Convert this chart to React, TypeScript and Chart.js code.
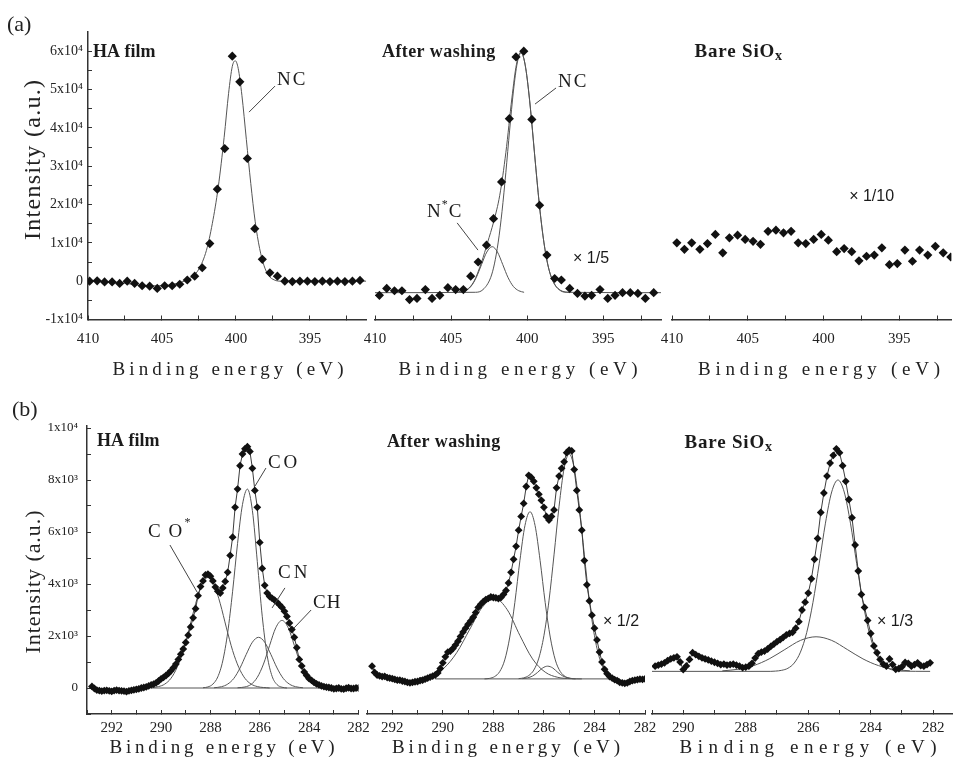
import React, { useEffect, useRef } from "react";
import { Chart, registerables } from "chart.js";

Chart.register(...registerables);

type Pt = [number, number];

const CANVAS_W = 956;
const CANVAS_H = 777;
const SERIF = "'Liberation Serif', 'DejaVu Serif', 'Times New Roman', serif";
const SANS = "'Liberation Sans', 'DejaVu Sans', Arial, sans-serif";

// ---------------- tick values and labels ----------------
const n1sTicks = [410, 407.5, 405, 402.5, 400, 397.5, 395, 392.5];
const n1sTickLabels = ["410", "", "405", "", "400", "", "395", ""];
const n1sIntensityTicks = [-1, -0.5, 0, 0.5, 1, 1.5, 2, 2.5, 3, 3.5, 4, 4.5, 5, 5.5, 6];
const n1sIntensityLabels = ["-1x10⁴", "", "0", "", "1x10⁴", "", "2x10⁴", "", "3x10⁴", "", "4x10⁴", "", "5x10⁴", "", "6x10⁴"];
const c1sTicks = [293, 292, 291, 290, 289, 288, 287, 286, 285, 284, 283, 282];
const c1sTickLabels = ["", "292", "", "290", "", "288", "", "286", "", "284", "", "282"];
const c1sBareTicks = [291, 290, 289, 288, 287, 286, 285, 284, 283, 282];
const c1sBareTickLabels = ["", "290", "", "288", "", "286", "", "284", "", "282"];
const c1sIntensityTicks = [-1, 0, 1, 2, 3, 4, 5, 6, 7, 8, 9, 10];
const c1sIntensityLabels = ["", "0", "", "2x10³", "", "4x10³", "", "6x10³", "", "8x10³", "", "1x10⁴"];

// ---------------- (a) N1s, intensity in 10^4 counts ----------------
const n1sHAFilm: Pt[] = [
  [409.89, 0.0], [409.38, 0.01], [408.88, -0.02], [408.37, -0.02], [407.86, -0.06], [407.35, 0.0],
  [406.85, -0.06], [406.34, -0.12], [405.83, -0.13], [405.32, -0.19], [404.82, -0.12], [404.31, -0.12],
  [403.8, -0.08], [403.29, 0.03], [402.79, 0.13], [402.28, 0.35], [401.77, 0.98], [401.26, 2.4],
  [400.76, 3.46], [400.25, 5.87], [399.74, 5.2], [399.23, 3.2], [398.73, 1.37], [398.22, 0.57],
  [397.71, 0.22], [397.2, 0.13], [396.7, 0.0], [396.19, -0.01], [395.68, 0.0], [395.17, 0.0],
  [394.67, -0.01], [394.16, 0.0], [393.65, -0.01], [393.14, 0.0], [392.64, -0.01], [392.13, 0.0], [391.62, 0.02],
];
const n1sHAFilmFit: Pt[] = [
  [410, 0.0], [408, -0.03], [406, -0.12], [405, -0.12], [404, -0.06], [403.5, 0.0], [403, 0.1],
  [402.5, 0.32], [402, 0.8], [401.6, 1.5], [401.2, 2.45], [400.8, 3.75], [400.5, 4.9], [400.25, 5.6],
  [400.05, 5.75], [399.85, 5.55], [399.6, 4.85], [399.3, 3.7], [399.0, 2.55], [398.7, 1.55], [398.4, 0.85],
  [398.1, 0.4], [397.8, 0.15], [397.4, 0.03], [397, 0.0], [391.2, 0.0],
];
const n1sWashed: Pt[] = [
  [409.71, -0.37], [409.23, -0.19], [408.72, -0.25], [408.23, -0.25], [407.73, -0.48], [407.24, -0.45],
  [406.69, -0.22], [406.25, -0.45], [405.74, -0.37], [405.21, -0.17], [404.7, -0.22], [404.19, -0.22],
  [403.71, 0.13], [403.22, 0.5], [402.67, 0.94], [402.21, 1.63], [401.68, 2.59], [401.17, 4.24],
  [400.73, 5.85], [400.22, 6.0], [399.69, 4.22], [399.18, 1.98], [398.7, 0.68], [398.19, 0.07],
  [397.75, 0.03], [397.2, -0.19], [396.69, -0.32], [396.2, -0.39], [395.76, -0.37], [395.21, -0.22],
  [394.7, -0.45], [394.22, -0.37], [393.73, -0.3], [393.22, -0.3], [392.72, -0.32], [392.23, -0.45], [391.68, -0.3],
];
const n1sWashedNC: Pt[] = [
  [410, -0.3], [403.4, -0.29], [402.9, -0.22], [402.4, 0.09], [402.15, 0.45], [401.9, 1.02], [401.65, 1.82],
  [401.4, 2.83], [401.15, 3.94], [400.9, 4.96], [400.65, 5.69], [400.4, 5.95], [400.15, 5.69], [399.9, 4.96],
  [399.65, 3.94], [399.4, 2.83], [399.15, 1.82], [398.9, 1.02], [398.65, 0.45], [398.4, 0.09], [397.9, -0.22],
  [397.4, -0.29], [391.2, -0.3],
];
const n1sWashedNstarC: Pt[] = [
  [404.4, -0.29], [404.05, -0.25], [403.7, -0.14], [403.35, 0.09], [403.0, 0.43], [402.65, 0.76], [402.3, 0.9],
  [401.95, 0.76], [401.6, 0.43], [401.25, 0.09], [400.9, -0.14], [400.55, -0.25], [400.2, -0.29],
];
const n1sWashedEnvelope: Pt[] = [
  [404.5, -0.27], [404.0, -0.23], [403.5, -0.01], [403.0, 0.49], [402.6, 1.01], [402.2, 1.55], [401.8, 2.24],
  [401.4, 3.35], [401.0, 4.78], [400.7, 5.66], [400.4, 5.98], [400.1, 5.57], [399.8, 4.57], [399.5, 3.27],
  [399.2, 2.01], [398.9, 1.02], [398.6, 0.36], [398.2, -0.08], [397.8, -0.24], [397.2, -0.3],
];
const n1sBare: Pt[] = [
  [409.68, 1.0], [409.18, 0.83], [408.7, 1.0], [408.16, 0.83], [407.66, 0.98], [407.14, 1.22], [406.65, 0.74],
  [406.21, 1.13], [405.67, 1.2], [405.17, 1.09], [404.65, 1.04], [404.16, 0.96], [403.66, 1.3], [403.14, 1.33],
  [402.64, 1.26], [402.14, 1.3], [401.67, 1.0], [401.17, 0.98], [400.65, 1.09], [400.15, 1.22], [399.68, 1.07],
  [399.13, 0.77], [398.64, 0.85], [398.14, 0.77], [397.66, 0.53], [397.16, 0.65], [396.65, 0.68], [396.15, 0.87],
  [395.65, 0.43], [395.13, 0.46], [394.63, 0.81], [394.13, 0.52], [393.66, 0.81], [393.12, 0.68], [392.62, 0.91],
  [392.1, 0.74], [391.6, 0.63],
];

// ---------------- (b) C1s, intensity in 10^3 counts ----------------
const c1sHAFilm: Pt[] = [
  [292.8, 0.06], [292.7, -0.02], [292.6, -0.08], [292.5, -0.1], [292.4, -0.12], [292.3, -0.1], [292.2, -0.09],
  [292.1, -0.11], [292.0, -0.13], [291.9, -0.1], [291.8, -0.08], [291.7, -0.1], [291.6, -0.11], [291.5, -0.12],
  [291.4, -0.14], [291.3, -0.11], [291.2, -0.09], [291.1, -0.07], [291.0, -0.05], [290.9, -0.03], [290.8, 0.0],
  [290.7, 0.02], [290.6, 0.04], [290.5, 0.08], [290.4, 0.12], [290.3, 0.15], [290.2, 0.2], [290.1, 0.27],
  [290.0, 0.35], [289.9, 0.41], [289.8, 0.48], [289.7, 0.56], [289.6, 0.66], [289.5, 0.78], [289.4, 0.92],
  [289.3, 1.1], [289.2, 1.3], [289.1, 1.5], [289.0, 1.75], [288.9, 2.03], [288.8, 2.35], [288.7, 2.7],
  [288.6, 3.05], [288.5, 3.55], [288.4, 3.9], [288.3, 4.12], [288.2, 4.35], [288.1, 4.38], [288.0, 4.3],
  [287.9, 4.12], [287.8, 3.88], [287.7, 3.72], [287.6, 3.65], [287.5, 3.85], [287.4, 4.1], [287.3, 4.45],
  [287.2, 5.1], [287.1, 5.8], [287.0, 6.95], [286.9, 7.65], [286.8, 8.55], [286.7, 9.0], [286.6, 9.2],
  [286.5, 9.28], [286.4, 9.1], [286.3, 8.45], [286.2, 7.6], [286.1, 6.95], [286.0, 5.6], [285.9, 4.6],
  [285.8, 3.95], [285.7, 3.65], [285.6, 3.52], [285.5, 3.45], [285.4, 3.38], [285.3, 3.3], [285.2, 3.2],
  [285.1, 3.1], [285.0, 2.95], [284.9, 2.75], [284.8, 2.5], [284.7, 2.25], [284.6, 1.95], [284.5, 1.55],
  [284.4, 1.1], [284.3, 0.85], [284.2, 0.62], [284.1, 0.48], [284.0, 0.36], [283.9, 0.29], [283.8, 0.22],
  [283.7, 0.16], [283.6, 0.12], [283.5, 0.08], [283.4, 0.05], [283.3, 0.03], [283.2, 0.02], [283.1, 0.0],
  [283.0, -0.03], [282.9, -0.02], [282.8, 0.0], [282.7, -0.03], [282.6, -0.04], [282.5, -0.01], [282.4, 0.01],
  [282.3, -0.02], [282.2, -0.02], [282.1, 0.0], [282.0, 0.0],
];
const c1sHACOstar: Pt[] = [
  [290.6, 0], [290.1, 0.055], [289.85, 0.15], [289.6, 0.37], [289.35, 0.79], [289.1, 1.44], [288.85, 2.31],
  [288.6, 3.24], [288.35, 3.97], [288.1, 4.25], [287.85, 3.97], [287.6, 3.24], [287.35, 2.31], [287.1, 1.44],
  [286.85, 0.79], [286.6, 0.37], [286.35, 0.15], [286.1, 0.055], [285.6, 0],
];
const c1sHACO: Pt[] = [
  [288.3, 0.01], [288.1, 0.04], [287.9, 0.15], [287.7, 0.43], [287.5, 1.04], [287.3, 2.13], [287.1, 3.72],
  [286.9, 5.56], [286.7, 7.06], [286.5, 7.65], [286.3, 6.83], [286.1, 4.86], [285.9, 2.76], [285.7, 1.25],
  [285.5, 0.45], [285.3, 0.13], [285.1, 0.03], [284.9, 0],
];
const c1sHACN: Pt[] = [
  [287.85, 0.01], [287.55, 0.05], [287.3, 0.15], [287.05, 0.37], [286.8, 0.77], [286.55, 1.29], [286.3, 1.76],
  [286.05, 1.95], [285.8, 1.76], [285.55, 1.29], [285.3, 0.77], [285.05, 0.37], [284.8, 0.15], [284.55, 0.05],
  [284.25, 0.01],
];
const c1sHACH: Pt[] = [
  [286.9, 0.01], [286.6, 0.04], [286.35, 0.14], [286.1, 0.41], [285.85, 0.92], [285.6, 1.64], [285.35, 2.32],
  [285.1, 2.6], [284.85, 2.32], [284.6, 1.64], [284.35, 0.92], [284.1, 0.41], [283.85, 0.14], [283.6, 0.04],
  [283.3, 0.01],
];
const c1sHABaseline: Pt[] = [[290.4, 0], [283.3, 0]];

const c1sWashed: Pt[] = [
  [292.8, 0.84], [292.7, 0.6], [292.6, 0.5], [292.5, 0.47], [292.4, 0.44], [292.3, 0.45], [292.2, 0.4],
  [292.1, 0.38], [292.0, 0.36], [291.9, 0.33], [291.8, 0.3], [291.7, 0.3], [291.6, 0.27], [291.5, 0.25],
  [291.4, 0.22], [291.3, 0.2], [291.2, 0.22], [291.1, 0.24], [291.0, 0.25], [290.9, 0.28], [290.8, 0.3],
  [290.7, 0.34], [290.6, 0.38], [290.5, 0.42], [290.4, 0.46], [290.3, 0.5], [290.2, 0.58], [290.1, 0.75],
  [290.0, 0.97], [289.9, 1.2], [289.8, 1.38], [289.7, 1.42], [289.6, 1.52], [289.5, 1.65], [289.4, 1.8],
  [289.3, 1.98], [289.2, 2.15], [289.1, 2.3], [289.0, 2.45], [288.9, 2.58], [288.8, 2.72], [288.7, 2.9],
  [288.6, 3.1], [288.5, 3.22], [288.4, 3.32], [288.3, 3.4], [288.2, 3.45], [288.1, 3.5], [288.0, 3.48],
  [287.9, 3.47], [287.8, 3.44], [287.7, 3.48], [287.6, 3.6], [287.5, 3.75], [287.4, 4.04], [287.3, 4.45],
  [287.2, 4.95], [287.1, 5.45], [287.0, 6.07], [286.9, 6.6], [286.8, 7.1], [286.7, 7.75], [286.6, 8.18],
  [286.5, 8.1], [286.4, 7.95], [286.3, 7.7], [286.2, 7.45], [286.1, 7.22], [286.0, 6.95], [285.9, 6.6],
  [285.8, 6.46], [285.7, 6.6], [285.6, 6.85], [285.5, 7.7], [285.4, 8.15], [285.3, 8.45], [285.2, 8.7],
  [285.1, 9.05], [285.0, 9.15], [284.9, 9.12], [284.8, 8.4], [284.7, 7.6], [284.6, 6.85], [284.5, 6.07],
  [284.4, 4.9], [284.3, 3.97], [284.2, 3.35], [284.1, 2.8], [284.0, 2.3], [283.9, 1.85], [283.8, 1.38],
  [283.7, 1.0], [283.6, 0.72], [283.5, 0.55], [283.4, 0.44], [283.3, 0.38], [283.2, 0.32], [283.1, 0.28],
  [283.0, 0.22], [282.9, 0.2], [282.8, 0.18], [282.7, 0.2], [282.6, 0.25], [282.5, 0.28], [282.4, 0.3],
  [282.3, 0.32], [282.2, 0.34], [282.1, 0.33], [282.0, 0.35],
];
const c1sWashCOstar: Pt[] = [
  [290.95, 0.38], [290.45, 0.49], [289.95, 0.77], [289.45, 1.36], [288.95, 2.23], [288.45, 3.09], [287.95, 3.45],
  [287.45, 3.01], [286.95, 2.02], [286.45, 1.12], [285.95, 0.61], [285.45, 0.41], [284.95, 0.36], [284.5, 0.35],
];
const c1sWashCO: Pt[] = [
  [288.35, 0.35], [288.15, 0.37], [287.95, 0.44], [287.75, 0.63], [287.55, 1.08], [287.35, 1.96], [287.15, 3.29],
  [286.95, 4.9], [286.75, 6.25], [286.55, 6.78], [286.35, 6.25], [286.15, 4.9], [285.95, 3.29], [285.75, 1.96],
  [285.55, 1.08], [285.35, 0.63], [285.15, 0.44], [284.95, 0.37], [284.75, 0.35],
];
const c1sWashCN: Pt[] = [
  [286.85, 0.36], [286.65, 0.39], [286.45, 0.46], [286.25, 0.6], [286.05, 0.77], [285.85, 0.84], [285.65, 0.77],
  [285.45, 0.6], [285.25, 0.46], [285.05, 0.39], [284.85, 0.36],
];
const c1sWashCH: Pt[] = [
  [287.0, 0.36], [286.8, 0.39], [286.6, 0.48], [286.4, 0.69], [286.2, 1.15], [286.0, 2.01], [285.8, 3.35],
  [285.6, 5.12], [285.4, 6.99], [285.2, 8.45], [285.0, 9.0], [284.8, 8.45], [284.6, 6.99], [284.4, 5.12],
  [284.2, 3.35], [284.0, 2.01], [283.8, 1.15], [283.6, 0.69], [283.4, 0.48], [283.2, 0.39], [283.0, 0.36],
];
const c1sWashBaseline: Pt[] = [[290.3, 0.35], [283.3, 0.35]];

const c1sBare: Pt[] = [
  [290.9, 0.84], [290.8, 0.88], [290.7, 0.92], [290.6, 0.97], [290.5, 1.05], [290.4, 1.12], [290.3, 1.16],
  [290.2, 1.2], [290.1, 1.0], [290.0, 0.71], [289.9, 0.85], [289.8, 1.1], [289.7, 1.36], [289.6, 1.28],
  [289.5, 1.22], [289.4, 1.16], [289.3, 1.12], [289.2, 1.08], [289.1, 1.03], [289.0, 0.99], [288.9, 0.95],
  [288.8, 0.9], [288.7, 0.92], [288.6, 0.88], [288.5, 0.9], [288.4, 0.92], [288.3, 0.88], [288.2, 0.84],
  [288.1, 0.78], [288.0, 0.8], [287.9, 0.84], [287.8, 0.95], [287.7, 1.15], [287.6, 1.32], [287.5, 1.38],
  [287.4, 1.42], [287.3, 1.5], [287.2, 1.6], [287.1, 1.69], [287.0, 1.78], [286.9, 1.86], [286.8, 1.95],
  [286.7, 2.04], [286.6, 2.1], [286.5, 2.14], [286.4, 2.3], [286.3, 2.55], [286.2, 3.0], [286.1, 3.3],
  [286.0, 3.65], [285.9, 4.2], [285.8, 4.95], [285.7, 5.75], [285.6, 6.75], [285.5, 7.5], [285.4, 8.15],
  [285.3, 8.65], [285.2, 8.95], [285.1, 9.2], [285.0, 9.05], [284.9, 8.55], [284.8, 7.95], [284.7, 7.25],
  [284.6, 6.55], [284.5, 5.5], [284.4, 4.5], [284.3, 3.6], [284.2, 3.1], [284.1, 2.6], [284.0, 2.1],
  [283.9, 1.62], [283.8, 1.36], [283.7, 1.1], [283.6, 0.92], [283.5, 0.84], [283.4, 1.12], [283.3, 0.9],
  [283.2, 0.72], [283.1, 0.75], [283.0, 0.82], [282.9, 0.98], [282.8, 0.95], [282.7, 0.84], [282.6, 0.9],
  [282.5, 0.97], [282.4, 0.86], [282.3, 0.84], [282.2, 0.9], [282.1, 0.97],
];
const c1sBareMain: Pt[] = [
  [291, 0.64], [287.2, 0.64], [287.05, 0.65], [286.85, 0.68], [286.65, 0.76], [286.45, 0.96], [286.25, 1.38],
  [286.05, 2.13], [285.85, 3.29], [285.65, 4.78], [285.45, 6.34], [285.25, 7.54], [285.05, 8.0], [284.85, 7.54],
  [284.65, 6.34], [284.45, 4.78], [284.25, 3.29], [284.05, 2.13], [283.85, 1.38], [283.65, 0.96], [283.45, 0.76],
  [283.25, 0.68], [283.05, 0.65], [282.1, 0.64],
];
const c1sBareBroad: Pt[] = [
  [288.75, 0.66], [288.25, 0.72], [287.75, 0.86], [287.25, 1.12], [286.75, 1.48], [286.25, 1.83], [285.75, 1.97],
  [285.25, 1.83], [284.75, 1.48], [284.25, 1.12], [283.75, 0.86], [283.25, 0.72], [282.75, 0.66],
];

// ---------------- panel description ----------------
type Part = { t: string; size: number; bold?: boolean; sans?: boolean; dy?: number; dx?: number; ls?: number };
type Note = { x: number; y: number; parts: Part[] };
type Leader = [number, number, number, number];

interface PanelDef {
  area: [number, number, number, number];
  xRange: [number, number];
  yRange: [number, number];
  xTicks: number[];
  xLabels: string[];
  yTicks: number[];
  yLabels: string[];
  showY: boolean;
  yFont: number;
  yPad: number;
  xPad: number;
  points: Pt[];
  pointR: number;
  connect: boolean;
  fits: Pt[][];
  notes: Note[];
  leaders: Leader[];
  xTitle: [number, number, number];
  yTitle?: [number, number, number, number];
  tag?: [string, number, number];
}

const TOP_AREA_Y: [number, number] = [32, 319.5];
const BOT_AREA_Y: [number, number] = [425.4, 714];

const panels: PanelDef[] = [
  {
    area: [88, TOP_AREA_Y[0], 366.2, TOP_AREA_Y[1]], xRange: [391.2, 410], yRange: [-1, 6.5],
    xTicks: n1sTicks, xLabels: n1sTickLabels, yTicks: n1sIntensityTicks, yLabels: n1sIntensityLabels,
    showY: true, yFont: 14, yPad: 9, xPad: 14.5, points: n1sHAFilm, pointR: 4.6, connect: false,
    fits: [n1sHAFilmFit],
    notes: [
      { x: 409.66, y: 5.98, parts: [{ t: "HA film", size: 18, bold: true }] },
      { x: 397.23, y: 5.25, parts: [{ t: "NC", size: 19, ls: 2 }] },
    ],
    leaders: [[397.36, 5.09, 399.12, 4.41]],
    xTitle: [228, 370, 231], yTitle: [34, 160, 160, 24], tag: ["(a)", 7, 25],
  },
  {
    area: [375, TOP_AREA_Y[0], 661, TOP_AREA_Y[1]], xRange: [391.2, 410], yRange: [-1, 6.5],
    xTicks: n1sTicks, xLabels: n1sTickLabels, yTicks: n1sIntensityTicks, yLabels: n1sIntensityLabels,
    showY: false, yFont: 14, yPad: 9, xPad: 14.5, points: n1sWashed, pointR: 4.6, connect: false,
    fits: [n1sWashedNC, n1sWashedNstarC, n1sWashedEnvelope],
    notes: [
      { x: 409.54, y: 5.98, parts: [{ t: "After washing", size: 18, bold: true, ls: 0.4 }] },
      { x: 397.97, y: 5.2, parts: [{ t: "NC", size: 19, ls: 2 }] },
      { x: 406.58, y: 1.8, parts: [{ t: "N", size: 19 }, { t: "*", size: 12, dy: -7, dx: 1 }, { t: "C", size: 19, dx: 1 }] },
      { x: 396.98, y: 0.6, parts: [{ t: "× 1/5", size: 16, sans: true }] },
    ],
    leaders: [[398.1, 5.04, 399.48, 4.62], [404.6, 1.52, 403.23, 0.81]],
    xTitle: [518, 370, 239],
  },
  {
    area: [672, TOP_AREA_Y[0], 956, TOP_AREA_Y[1]], xRange: [391.56, 410], yRange: [-1, 6.5],
    xTicks: n1sTicks, xLabels: n1sTickLabels, yTicks: n1sIntensityTicks, yLabels: n1sIntensityLabels,
    showY: false, yFont: 14, yPad: 9, xPad: 14.5, points: n1sBare, pointR: 4.6, connect: false,
    fits: [],
    notes: [
      { x: 408.51, y: 5.98, parts: [{ t: "Bare SiO", size: 19, bold: true, ls: 0.8 }, { t: "x", size: 14, bold: true, dy: 4 }] },
      { x: 398.31, y: 2.2, parts: [{ t: "× 1/10", size: 16, sans: true }] },
    ],
    leaders: [],
    xTitle: [819, 370, 242],
  },
  {
    area: [87, BOT_AREA_Y[0], 358.5, BOT_AREA_Y[1]], xRange: [282, 293], yRange: [-1, 10.1],
    xTicks: c1sTicks, xLabels: c1sTickLabels, yTicks: c1sIntensityTicks, yLabels: c1sIntensityLabels,
    showY: true, yFont: 13, yPad: 13, xPad: 9, points: c1sHAFilm, pointR: 3.9, connect: true,
    fits: [c1sHACOstar, c1sHACO, c1sHACN, c1sHACH, c1sHABaseline],
    notes: [
      { x: 292.59, y: 9.5, parts: [{ t: "HA film", size: 18, bold: true }] },
      { x: 290.53, y: 6.0, parts: [{ t: "C O", size: 19, ls: 1.5 }, { t: "*", size: 12, dy: -9, dx: 1 }] },
      { x: 285.67, y: 8.65, parts: [{ t: "CO", size: 19, ls: 3 }] },
      { x: 285.26, y: 4.42, parts: [{ t: "CN", size: 19, ls: 3 }] },
      { x: 283.84, y: 3.27, parts: [{ t: "CH", size: 19, ls: 1 }] },
    ],
    leaders: [
      [289.64, 5.5, 288.54, 3.69],
      [285.75, 8.46, 286.19, 7.77],
      [284.98, 3.85, 285.5, 3.08],
      [283.92, 3.0, 284.61, 2.31],
    ],
    xTitle: [222, 748, 225], yTitle: [34, 582, 143, 22], tag: ["(b)", 12, 410],
  },
  {
    area: [367, BOT_AREA_Y[0], 645, BOT_AREA_Y[1]], xRange: [282, 293], yRange: [-1, 10.1],
    xTicks: c1sTicks, xLabels: c1sTickLabels, yTicks: c1sIntensityTicks, yLabels: c1sIntensityLabels,
    showY: false, yFont: 13, yPad: 13, xPad: 9, points: c1sWashed, pointR: 3.9, connect: true,
    fits: [c1sWashCOstar, c1sWashCO, c1sWashCN, c1sWashCH, c1sWashBaseline],
    notes: [
      { x: 292.21, y: 9.46, parts: [{ t: "After washing", size: 18, bold: true, ls: 0.4 }] },
      { x: 283.66, y: 2.54, parts: [{ t: "× 1/2", size: 16, sans: true }] },
    ],
    leaders: [],
    xTitle: [506, 748, 228],
  },
  {
    area: [652, BOT_AREA_Y[0], 956, BOT_AREA_Y[1]], xRange: [281.4, 291], yRange: [-1, 10.1],
    xTicks: c1sBareTicks, xLabels: c1sBareTickLabels, yTicks: c1sIntensityTicks, yLabels: c1sIntensityLabels,
    showY: false, yFont: 13, yPad: 13, xPad: 9, points: c1sBare, pointR: 3.9, connect: true,
    fits: [c1sBareMain, c1sBareBroad],
    notes: [
      { x: 289.96, y: 9.42, parts: [{ t: "Bare SiO", size: 19, bold: true, ls: 0.8 }, { t: "x", size: 14, bold: true, dy: 4 }] },
      { x: 283.8, y: 2.54, parts: [{ t: "× 1/3", size: 16, sans: true }] },
    ],
    leaders: [],
    xTitle: [808, 748, 257],
  },
];

// ---------------- drawing helpers ----------------
const Y_AXIS_W = 60;
const X_AXIS_H = 40;
const TICK_LEN = -4;

function partFont(p: Part): string {
  return `${p.bold ? "bold " : ""}${p.size}px ${p.sans ? SANS : SERIF}`;
}

function spacedText(ctx: any, text: string, cx: number, cy: number, width: number, size: number, vertical: boolean) {
  ctx.save();
  ctx.font = `${size}px ${SERIF}`;
  ctx.letterSpacing = "0px";
  const w0 = ctx.measureText(text).width;
  const gap = Math.max(0, (width - w0) / (text.length - 1));
  ctx.letterSpacing = `${gap}px`;
  const total = w0 + gap * (text.length - 1);
  ctx.translate(cx, cy);
  if (vertical) ctx.rotate(-Math.PI / 2);
  ctx.textAlign = "left";
  ctx.textBaseline = "middle";
  ctx.fillStyle = "#222";
  ctx.fillText(text, -total / 2, 0);
  ctx.restore();
}

function notesPlugin(p: PanelDef) {
  return {
    id: "notes",
    afterDraw(chart: any) {
      const ctx = chart.ctx;
      const xs = chart.scales.x;
      const ys = chart.scales.y;
      ctx.save();
      ctx.strokeStyle = "#444";
      ctx.lineWidth = 1;
      for (const [x1, y1, x2, y2] of p.leaders) {
        ctx.beginPath();
        ctx.moveTo(xs.getPixelForValue(x1), ys.getPixelForValue(y1));
        ctx.lineTo(xs.getPixelForValue(x2), ys.getPixelForValue(y2));
        ctx.stroke();
      }
      ctx.fillStyle = "#1b1b1b";
      ctx.textBaseline = "middle";
      ctx.textAlign = "left";
      for (const n of p.notes) {
        let cx = xs.getPixelForValue(n.x);
        const cy = ys.getPixelForValue(n.y);
        for (const part of n.parts) {
          ctx.font = partFont(part);
          ctx.letterSpacing = `${part.ls ?? 0}px`;
          cx += part.dx ?? 0;
          ctx.fillText(part.t, cx, cy + (part.dy ?? 0));
          cx += ctx.measureText(part.t).width;
        }
      }
      ctx.letterSpacing = "0px";
      spacedText(ctx, "Binding energy (eV)", p.xTitle[0], p.xTitle[1], p.xTitle[2], 19, false);
      if (p.yTitle) spacedText(ctx, "Intensity (a.u.)", p.yTitle[0], p.yTitle[1], p.yTitle[2], p.yTitle[3], true);
      if (p.tag) {
        ctx.font = `22px ${SERIF}`;
        ctx.fillStyle = "#222";
        ctx.fillText(p.tag[0], p.tag[1], p.tag[2]);
      }
      ctx.restore();
    },
  };
}

function makeConfig(p: PanelDef): any {
  const [l, t, r, b] = p.area;
  const yW = p.showY ? Y_AXIS_W : 0;
  const toXY = (pts: Pt[]) => pts.map(([x, y]) => ({ x, y }));
  return {
    type: "scatter",
    data: {
      datasets: [
        {
          data: toXY(p.points),
          showLine: p.connect,
          borderColor: "#3c3c3c",
          borderWidth: 1,
          pointStyle: "rectRot",
          pointRadius: p.pointR,
          pointBackgroundColor: "#111",
          pointBorderColor: "#111",
          pointBorderWidth: 0,
        },
        ...p.fits.map((f) => ({
          data: toXY(f),
          showLine: true,
          pointRadius: 0,
          borderColor: "#555",
          borderWidth: 1,
          cubicInterpolationMode: "monotone",
          fill: false,
        })),
      ],
    },
    options: {
      responsive: false,
      animation: false,
      devicePixelRatio: 1,
      events: [],
      layout: {
        padding: {
          left: l - yW,
          top: t,
          right: CANVAS_W - r,
          bottom: CANVAS_H - b - X_AXIS_H,
        },
      },
      plugins: { legend: { display: false }, tooltip: { enabled: false } },
      scales: {
        x: {
          type: "linear",
          position: "bottom",
          reverse: true,
          min: p.xRange[0],
          max: p.xRange[1],
          afterFit: (s: any) => {
            s.height = X_AXIS_H;
            s.paddingLeft = 0;
            s.paddingRight = 0;
            s.paddingTop = 0;
            s.paddingBottom = 0;
          },
          afterBuildTicks: (s: any) => {
            s.ticks = p.xTicks.map((v) => ({ value: v }));
          },
          ticks: {
            autoSkip: false,
            maxRotation: 0,
            minRotation: 0,
            padding: p.xPad,
            color: "#222",
            font: { family: SERIF, size: 15 },
            callback: (v: number) => p.xLabels[p.xTicks.indexOf(v)] ?? "",
          },
          grid: { drawOnChartArea: false, drawTicks: true, tickLength: TICK_LEN, color: "#333", lineWidth: 1 },
          border: { display: true, color: "#333", width: 1.5 },
        },
        y: {
          type: "linear",
          position: "left",
          display: p.showY,
          min: p.yRange[0],
          max: p.yRange[1],
          afterFit: (s: any) => {
            s.width = yW;
            s.paddingTop = 0;
            s.paddingBottom = 0;
            s.paddingLeft = 0;
            s.paddingRight = 0;
          },
          afterBuildTicks: (s: any) => {
            s.ticks = p.yTicks.map((v) => ({ value: v }));
          },
          ticks: {
            autoSkip: false,
            padding: p.yPad,
            color: "#222",
            font: { family: SERIF, size: p.yFont },
            callback: (v: number) => p.yLabels[p.yTicks.indexOf(v)] ?? "",
          },
          grid: { drawOnChartArea: false, drawTicks: true, tickLength: TICK_LEN, color: "#333", lineWidth: 1 },
          border: { display: true, color: "#333", width: 1.5 },
        },
      },
    },
    plugins: [notesPlugin(p)],
  };
}

function PanelChart({ panel }: { panel: PanelDef }) {
  const ref = useRef<HTMLCanvasElement | null>(null);
  useEffect(() => {
    if (!ref.current) return;
    const chart = new Chart(ref.current, makeConfig(panel));
    return () => chart.destroy();
  }, [panel]);
  return (
    <canvas
      ref={ref}
      width={CANVAS_W}
      height={CANVAS_H}
      style={{ position: "absolute", left: 0, top: 0, width: CANVAS_W, height: CANVAS_H }}
    />
  );
}

export default function App() {
  return (
    <div
      style={{
        position: "fixed",
        left: 0,
        top: 0,
        width: CANVAS_W,
        height: CANVAS_H,
        background: "#ffffff",
        overflow: "hidden",
      }}
    >
      {panels.map((p, i) => (
        <PanelChart key={i} panel={p} />
      ))}
    </div>
  );
}
